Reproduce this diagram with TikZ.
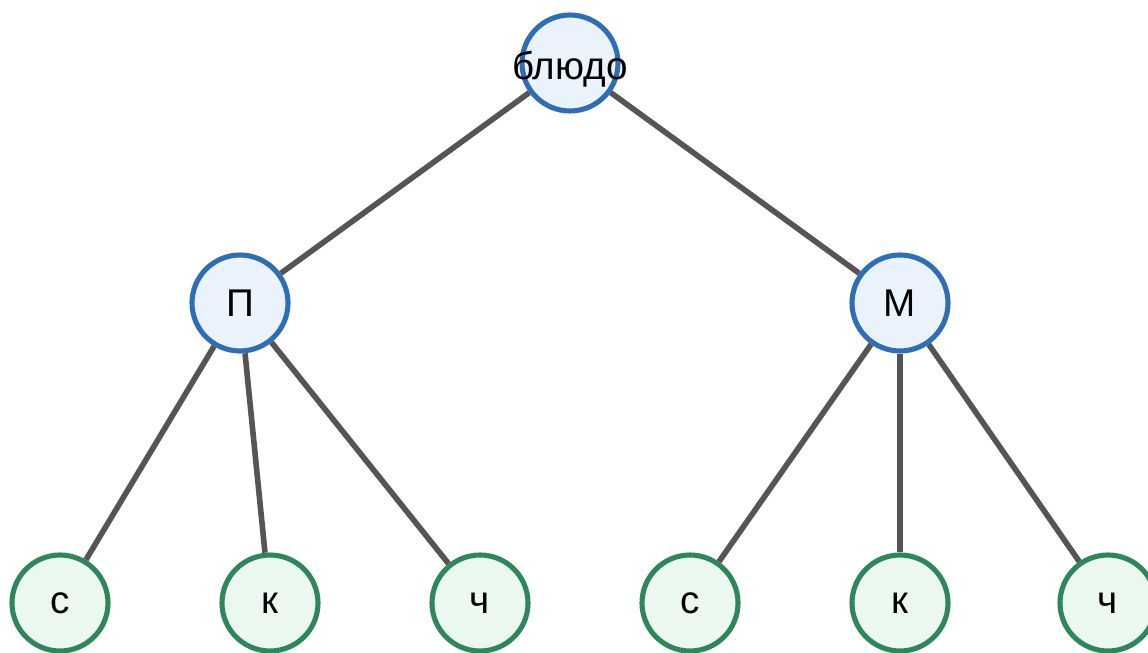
\documentclass[tikz,border=0pt]{standalone}
\usepackage{fontspec}
\setmainfont{Liberation Sans}
\definecolor{innerline}{HTML}{2F6DB5}
\definecolor{innerfill}{HTML}{EAF2FC}
\definecolor{leafline}{HTML}{2E865A}
\definecolor{leaffill}{HTML}{EAF8F0}
\definecolor{edgegray}{HTML}{555555}
\tikzset{
    treefont/.style={font=\fontsize{22}{26}\selectfont},
    treenode/.style={circle, line width=2.9pt, minimum size=1.92cm, inner sep=0pt, treefont},
    innernode/.style={treenode, draw=innerline, fill=innerfill},
    leafnode/.style={treenode, draw=leafline, fill=leaffill},
    edge/.style={draw=edgegray, line width=3.2pt}
}
\begin{document}
\begin{tikzpicture}
            \useasboundingbox (0,0) rectangle (22.96,13.04);
            \node[innernode, label={[treefont, inner sep=0pt, yshift=-0.12cm]center:блюдо}] (dish) at (11.4,11.78) {};
            \node[innernode] (p) at (4.8,6.98) {П};
            \node[innernode] (m) at (18,6.98) {М};
            \foreach \x/\t/\n in {1.2/с/ps, 5.4/к/pk, 9.6/ч/pc, 13.8/с/ms, 18/к/mk, 22.16/ч/mc} {
                \node[leafnode] (\n) at (\x,0.98) {\t};
            }
            \draw[edge] (dish) -- (p);
            \draw[edge] (dish) -- (m);
            \foreach \n in {ps,pk,pc} {
                \draw[edge] (p) -- (\n);
            }
            \foreach \n in {ms,mk,mc} {
                \draw[edge] (m) -- (\n);
            }
        \end{tikzpicture}
\end{document}
